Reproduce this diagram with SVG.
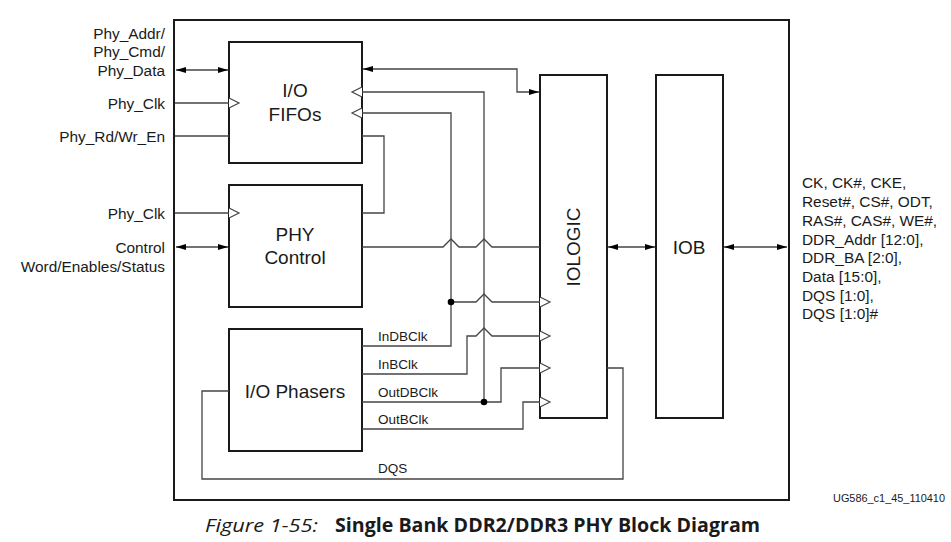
<svg xmlns="http://www.w3.org/2000/svg" width="951" height="542" viewBox="0 0 951 542">
<style>
.box{fill:#fff;stroke:#1a1a1a;stroke-width:2}
.frame{fill:#fff;stroke:#1a1a1a;stroke-width:2}
.w{fill:none;stroke:#444;stroke-width:1.3}
.blk{fill:#fff;stroke:#000;stroke-width:1.3}
.t{font-family:"Liberation Sans",Arial,sans-serif;font-size:15.4px;fill:#1a1a1a}
.s{font-family:"Liberation Sans",Arial,sans-serif;font-size:13.5px;fill:#1a1a1a}
.b{font-family:"Liberation Sans",Arial,sans-serif;font-size:19px;fill:#1a1a1a;text-anchor:middle}
.clk{fill:#fff;stroke:#444;stroke-width:1.2}
.dot{fill:#000}
</style>
<defs>
<marker id="ah" viewBox="0 0 10 6" refX="10" refY="3" markerWidth="10" markerHeight="6" markerUnits="userSpaceOnUse" orient="auto-start-reverse">
<path d="M0,0 L10,3 L0,6 z" fill="#000"/>
</marker>
<path id="clkR" d="M0,-5 L10,0 L0,5"/>
<path id="clkL" d="M0,-5 L-10,0 L0,5"/>
</defs>
<rect width="951" height="542" fill="#fff"/>
<rect class="frame" x="174" y="20" width="615" height="480"/>

<g id="io_fifos">
<rect class="box" x="229" y="42" width="133" height="121"/>
<text class="b" x="295" y="97">I/O</text>
<text class="b" x="295" y="121">FIFOs</text>
</g>
<g id="phy_control">
<rect class="box" x="229" y="185" width="133" height="122"/>
<text class="b" x="295" y="241">PHY</text>
<text class="b" x="295" y="264">Control</text>
</g>
<g id="io_phasers">
<rect class="box" x="229" y="329" width="133" height="122"/>
<text class="b" x="295" y="398">I/O Phasers</text>
</g>
<g id="iologic">
<rect class="box" x="540" y="75" width="67" height="343"/>
<text class="b" transform="translate(580,247) rotate(-90)">IOLOGIC</text>
</g>
<g id="iob">
<rect class="box" x="656" y="75" width="67" height="343"/>
<text class="b" x="689" y="254">IOB</text>
</g>

<g id="connectors">
<path class="w" d="M176,70 H228" marker-start="url(#ah)" marker-end="url(#ah)"/>
<path class="w" d="M175,103 H229"/>
<path class="w" d="M175,136 H229"/>
<path class="w" d="M175,213 H229"/>
<path class="w" d="M176,247 H228" marker-start="url(#ah)" marker-end="url(#ah)"/>
<path class="w" d="M363,69 H517 V92 H539" marker-start="url(#ah)" marker-end="url(#ah)"/>
<path class="w" d="M362,136 H384 V213 H362"/>
<path class="w" d="M362,247 H443 l8,-8 l8,8 H476 l8,-8 l8,8 H540"/>
<path class="w" d="M362,92 H484 V402"/>
<path class="w" d="M362,402 H501 V368 H540"/>
<path class="w" d="M362,113 H451 V346 H362"/>
<path class="w" d="M451,302 H476 l8,-8 l8,8 H540"/>
<path class="w" d="M362,374 H467 V336 H476 l8,-8 l8,8 H540"/>
<path class="w" d="M362,429 H523 V402 H540"/>
<path class="w" d="M229,391 H202 V479 H623 V368 H607"/>
<path class="w" d="M608,247 H655" marker-start="url(#ah)" marker-end="url(#ah)"/>
<path class="w" d="M724,247 H787" marker-start="url(#ah)" marker-end="url(#ah)"/>
<circle class="dot" cx="451" cy="302" r="3.3"/>
<circle class="dot" cx="484" cy="402" r="3.3"/>
<use href="#clkR" class="clk" x="229" y="103"/>
<use href="#clkR" class="clk" x="229" y="213"/>
<use href="#clkL" class="clk" x="362" y="92"/>
<use href="#clkL" class="clk" x="362" y="113"/>
<use href="#clkR" class="clk" x="540" y="302"/>
<use href="#clkR" class="clk" x="540" y="336"/>
<use href="#clkR" class="clk" x="540" y="368"/>
<use href="#clkR" class="clk" x="540" y="402"/>
</g>

<g id="labels">
<g class="t" text-anchor="end">
<text x="165" y="39">Phy_Addr/</text>
<text x="165" y="57">Phy_Cmd/</text>
<text x="165" y="76">Phy_Data</text>
<text x="165" y="109">Phy_Clk</text>
<text x="165" y="142">Phy_Rd/Wr_En</text>
<text x="165" y="219">Phy_Clk</text>
<text x="165" y="253">Control</text>
<text x="165" y="272">Word/Enables/Status</text>
</g>
<g class="t">
<text x="802" y="188">CK, CK#, CKE,</text>
<text x="802" y="207">Reset#, CS#, ODT,</text>
<text x="802" y="226">RAS#, CAS#, WE#,</text>
<text x="802" y="245">DDR_Addr [12:0],</text>
<text x="802" y="263">DDR_BA [2:0],</text>
<text x="802" y="282">Data [15:0],</text>
<text x="802" y="301">DQS [1:0],</text>
<text x="802" y="319">DQS [1:0]#</text>
</g>
<g class="s">
<text x="378" y="341">InDBClk</text>
<text x="378" y="369">InBClk</text>
<text x="378" y="397">OutDBClk</text>
<text x="378" y="424">OutBClk</text>
<text x="378" y="473">DQS</text>
</g>
<text x="833" y="502" font-family="'Liberation Sans',Arial,sans-serif" font-size="10px" fill="#1a1a1a" textLength="112" lengthAdjust="spacingAndGlyphs">UG586_c1_45_110410</text>
<text x="205" y="532" font-family="'Open Sans','Noto Sans',sans-serif" font-size="19px" font-style="italic" fill="#1a1a1a" textLength="113" lengthAdjust="spacingAndGlyphs">Figure 1-55:</text>
<text x="335" y="532" font-family="'Open Sans','Noto Sans',sans-serif" font-size="19px" font-weight="bold" fill="#1a1a1a" textLength="425" lengthAdjust="spacingAndGlyphs">Single Bank DDR2/DDR3 PHY Block Diagram</text>
</g>
</svg>
